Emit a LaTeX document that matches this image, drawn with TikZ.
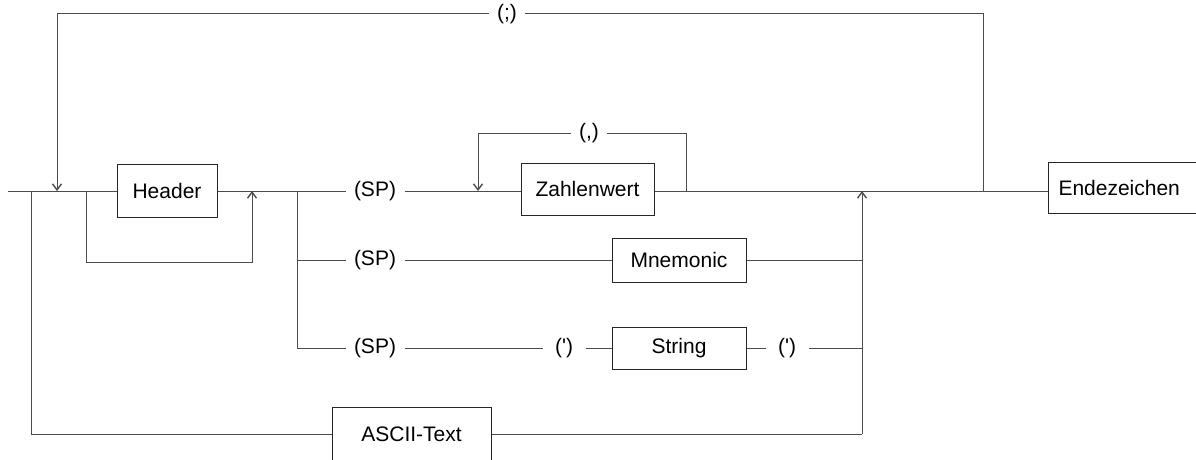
\documentclass[tikz,border=0pt]{standalone}
\usepackage{fontspec}
\setmainfont{Liberation Sans}
\usetikzlibrary{arrows.meta}

\begin{document}
\begin{tikzpicture}[x=1pt, y=-1pt, line width=1pt,
    font=\fontsize{21}{25}\selectfont,
    line/.style={draw=black!70},
    tip/.style={-{Straight Barb[length=6pt,width=9pt,line width=1.4pt]}},
    box/.style={draw=black!85, inner sep=0pt},
    lbl/.style={inner xsep=8pt, inner ysep=0pt}]
    \useasboundingbox (0,0) rectangle (1196,460);
    \clip (0,0) rectangle (1196,460);

    % boxes
    \node[box, minimum width=100pt, minimum height=53pt] (header) at (167,191) {Header};
    \node[box, minimum width=133pt, minimum height=52pt] (zahl) at (587.5,189) {Zahlenwert};
    \node[box, minimum width=134pt, minimum height=44pt] (mnem) at (679,260) {Mnemonic};
    \node[box, minimum width=134pt, minimum height=42pt] (string) at (679,348) {String};
    \node[box, minimum width=159pt, minimum height=54pt] (ascii) at (411.5,434) {ASCII-Text};
    \node[box, minimum height=51pt, text width=130pt, inner xsep=10pt, align=left,
        anchor=west] (ende) at (1048,187.5) {Endezeichen};

    % labels on the lines
    \node[lbl] (semi) at (507,14) {(;)};
    \node[lbl] (comma) at (589,133) {(,)};
    \node[lbl] (sp1) at (375,191) {(SP)};
    \node[lbl] (sp2) at (375,260) {(SP)};
    \node[lbl] (sp3) at (375,348) {(SP)};
    \node[lbl, inner xsep=12pt] (q1) at (564,348) {(\textquotesingle)};
    \node[lbl, inner xsep=12pt] (q2) at (787,348) {(\textquotesingle)};

    % junctions
    \coordinate (start) at (8,191);
    \coordinate (jA) at (31,191);
    \coordinate (jB) at (57,191);
    \coordinate (jC) at (86,191);
    \coordinate (jD) at (252,191);
    \coordinate (hbot) at (252,262);
    \coordinate (jE) at (297,191);
    \coordinate (jF) at (478,191);
    \coordinate (jG) at (686,191);
    \coordinate (jH) at (862,191);
    \coordinate (jI) at (983,191);
    \coordinate (m2) at (862,260);
    \coordinate (m3) at (862,348);
    \coordinate (m4) at (862,434);

    % main line
    \draw[line] (start) -- (header);
    \draw[line] (header) -- (sp1);
    \draw[line] (sp1) -- (zahl.west |- jE);
    \draw[line] (zahl.east |- jE) -- (ende.west |- jE);

    % header bypass
    \draw[line, tip] (jC) |- (hbot) -- (jD);

    % repeat loops
    \draw[line] (jI) |- (semi);
    \draw[line, tip] (semi) -| (jB);
    \draw[line] (jG) |- (comma);
    \draw[line, tip] (comma) -| (jF);

    % branches
    \draw[line] (jE) |- (sp2);
    \draw[line] (jE) |- (sp3);
    \draw[line] (sp2) -- (mnem);
    \draw[line] (mnem) -- (m2);
    \draw[line] (sp3) -- (q1);
    \draw[line] (q1) -- (string);
    \draw[line] (string) -- (q2);
    \draw[line] (q2) -- (m3);
    \draw[line] (jA) |- (ascii);
    \draw[line] (ascii) -- (m4);
    \draw[line, tip] (m4) -- (jH);
\end{tikzpicture}
\end{document}
